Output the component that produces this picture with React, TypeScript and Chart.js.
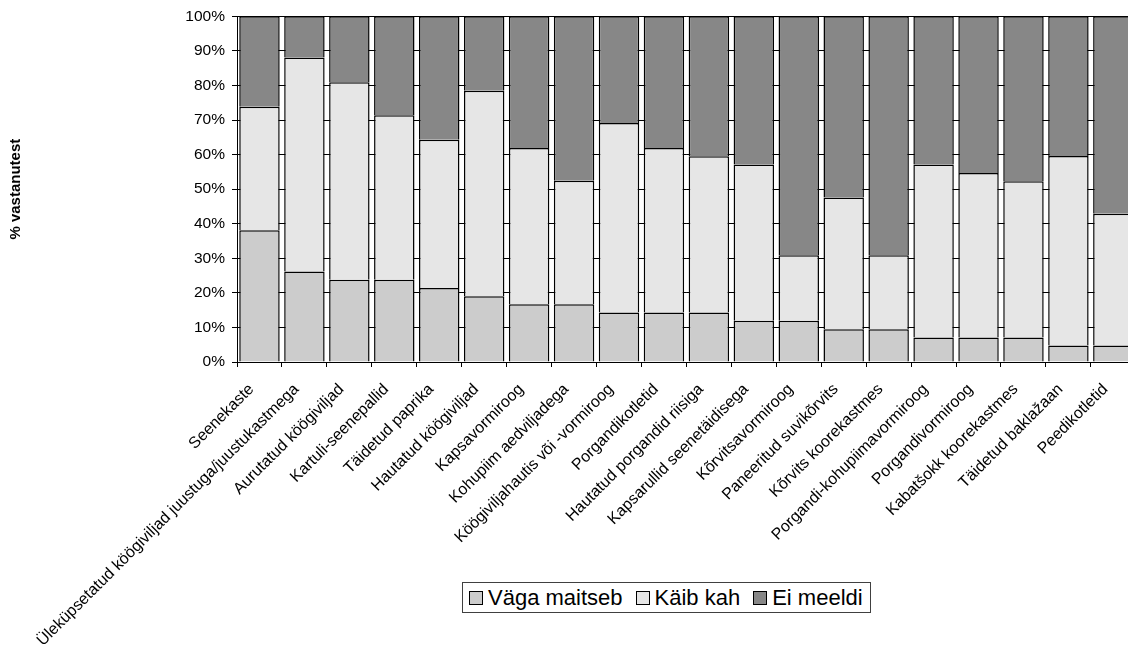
import React, { useEffect, useRef } from "react";
import { Chart, registerables } from "chart.js";

Chart.register(...registerables);

const categories = [
  "Seenekaste",
  "Üleküpsetatud köögiviljad juustuga/juustukastmega",
  "Aurutatud köögiviljad",
  "Kartuli-seenepallid",
  "Täidetud paprika",
  "Hautatud köögiviljad",
  "Kapsavormiroog",
  "Kohupiim aedviljadega",
  "Köögiviljahautis või -vormiroog",
  "Porgandikotletid",
  "Hautatud porgandid riisiga",
  "Kapsarullid seenetäidisega",
  "Kõrvitsavormiroog",
  "Paneeritud suvikõrvits",
  "Kõrvits koorekastmes",
  "Porgandi-kohupiimavormiroog",
  "Porgandivormiroog",
  "Kabatšokk koorekastmes",
  "Täidetud baklažaan",
  "Peedikotletid",
];

const vagaMaitseb = [38.1, 26.2, 23.8, 23.8, 21.4, 19.0, 16.7, 16.7, 14.3, 14.3, 14.3, 11.9, 11.9, 9.5, 9.5, 7.1, 7.1, 7.1, 4.8, 4.8];
const kaibKah = [35.7, 61.9, 57.1, 47.6, 42.9, 59.5, 45.2, 35.7, 54.8, 47.6, 45.2, 45.2, 19.0, 38.1, 21.4, 50.0, 47.6, 45.2, 54.8, 38.1];
const eiMeeldi = [26.2, 11.9, 19.1, 28.6, 35.7, 21.5, 38.1, 47.6, 30.9, 38.1, 40.5, 42.9, 69.1, 52.4, 69.1, 42.9, 45.3, 47.7, 40.4, 57.1];

const seriesNames = ["Väga maitseb", "Käib kah", "Ei meeldi"];
const seriesColors = ["#cccccc", "#e6e6e6", "#878787"];
const yTitle = "% vastanutest";

const FONT = '"Liberation Sans", Arial, sans-serif';

export default function App() {
  const canvasRef = useRef<HTMLCanvasElement | null>(null);

  useEffect(() => {
    const canvas = canvasRef.current;
    if (!canvas) return;
    const seriesData = [vagaMaitseb, kaibKah, eiMeeldi];
    const chart = new Chart(canvas, {
      type: "bar",
      data: {
        labels: categories,
        datasets: seriesNames.map((name, i) => ({
          label: name,
          data: seriesData[i],
          backgroundColor: seriesColors[i],
          borderColor: "#000",
          borderWidth: 1.5,
          barPercentage: 0.9,
          categoryPercentage: 1.0,
        })),
      },
      options: {
        responsive: false,
        animation: false,
        events: [],
        layout: { padding: { top: 16, left: 0, right: 3, bottom: 0 } },
        plugins: {
          legend: { display: false },
          tooltip: { enabled: false },
        },
        scales: {
          x: {
            stacked: true,
            grid: { offset: true, drawOnChartArea: false, color: "#000", tickLength: 5 },
            border: { color: "#000" },
            ticks: {
              autoSkip: false,
              maxRotation: 45,
              minRotation: 45,
              color: "#000",
              font: { family: FONT, size: 16 },
              padding: 13,
              labelOffset: -8,
            },
            afterFit: (s: any) => {
              s.height = 284;
            },
          },
          y: {
            stacked: true,
            min: 0,
            max: 100,
            ticks: {
              stepSize: 10,
              callback: (v: any) => v + "%",
              color: "#000",
              font: { family: FONT, size: 15.5 },
              padding: 7,
            },
            grid: { color: "#000", tickLength: 5 },
            border: { color: "#000" },
            title: {
              display: true,
              text: yTitle,
              color: "#000",
              font: { family: FONT, size: 15, weight: "bold" },
              padding: { top: 7, bottom: 0 },
            },
            afterFit: (s: any) => {
              s.width = 237;
            },
          },
        },
      },
    });
    return () => chart.destroy();
  }, []);

  return (
    <div
      style={{
        position: "fixed",
        left: 0,
        top: 0,
        width: 1128,
        height: 646,
        overflow: "hidden",
        background: "#fff",
      }}
    >
      <canvas ref={canvasRef} width={1140} height={646} style={{ display: "block" }} />
      <div
        style={{
          position: "absolute",
          left: 462,
          top: 582,
          height: 31,
          boxSizing: "border-box",
          border: "1px solid #404040",
          background: "#fff",
          display: "flex",
          alignItems: "center",
          padding: "0 7px 0 6px",
          fontFamily: FONT,
          fontSize: 22,
          color: "#000",
          whiteSpace: "nowrap",
        }}
      >
        {seriesNames.map((name, i) => (
          <div
            key={name}
            style={{ display: "flex", alignItems: "center", marginRight: i < seriesNames.length - 1 ? 13 : 0 }}
          >
            <span
              style={{
                display: "inline-block",
                width: 14,
                height: 14,
                boxSizing: "border-box",
                border: "1px solid #000",
                background: seriesColors[i],
                marginRight: 5,
              }}
            />
            <span style={{ lineHeight: "29px" }}>{name}</span>
          </div>
        ))}
      </div>
    </div>
  );
}
